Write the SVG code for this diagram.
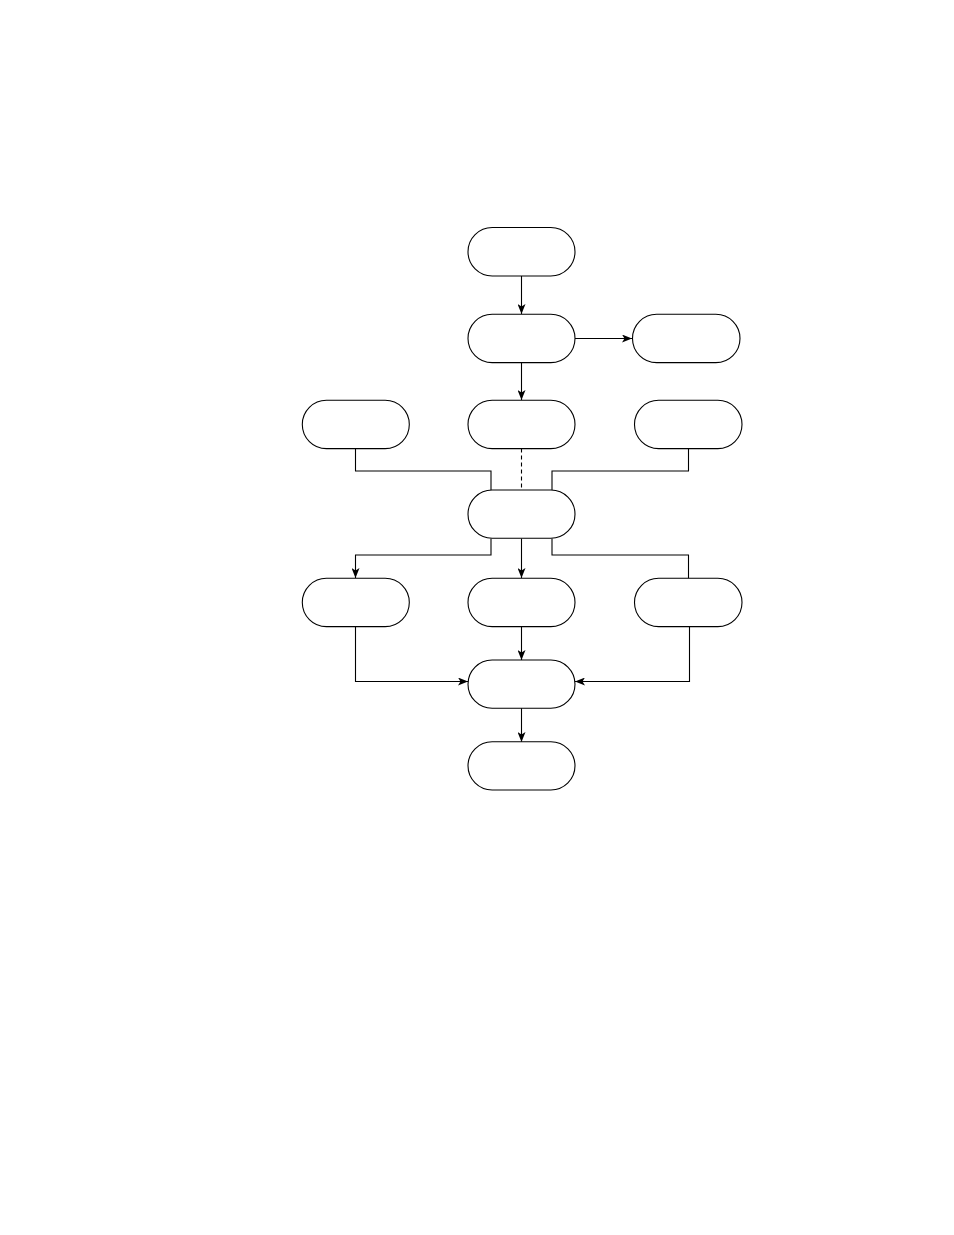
<svg xmlns="http://www.w3.org/2000/svg" width="954" height="1235" viewBox="0 0 954 1235">
<style>
.n{fill:#fff;stroke:#000;stroke-width:1.1}
.c{fill:none;stroke:#000;stroke-width:1.1}
.d{stroke-dasharray:4,3}
</style>
<defs>
<marker id="a" viewBox="0 0 10 8" refX="10" refY="4" markerWidth="10" markerHeight="8" markerUnits="userSpaceOnUse" orient="auto">
<path d="M0,0 L10,4 L0,8 L2.5,4 Z" fill="#000"/>
</marker>
</defs>
<rect width="954" height="1235" fill="#fff"/>
<g id="connectors">
<path class="c" d="M521.5,276 V314" marker-end="url(#a)"/>
<path class="c" d="M575,338.5 H632" marker-end="url(#a)"/>
<path class="c" d="M521.5,362.5 V400" marker-end="url(#a)"/>
<path class="c d" d="M521.5,448.5 V490"/>
<path class="c" d="M355.5,448.5 V471 H491 V490"/>
<path class="c" d="M688.5,448.5 V471 H552 V490"/>
<path class="c" d="M491,538.5 V555 H355.5 V578" marker-end="url(#a)"/>
<path class="c" d="M521.5,538.5 V578" marker-end="url(#a)"/>
<path class="c" d="M552,538.5 V555 H688.5 V578.5"/>
<path class="c" d="M355.5,626.5 V681.5 H468" marker-end="url(#a)"/>
<path class="c" d="M521.5,626.5 V660" marker-end="url(#a)"/>
<path class="c" d="M689.5,626.5 V681.5 H575" marker-end="url(#a)"/>
<path class="c" d="M521.5,708 V742" marker-end="url(#a)"/>
</g>
<g id="n1"><rect class="n" x="468" y="227.5" width="107" height="48.5" rx="24.25"/></g>
<g id="n2"><rect class="n" x="468" y="314.3" width="107" height="48.3" rx="24.15"/></g>
<g id="n3"><rect class="n" x="632.5" y="314.3" width="107.5" height="48.3" rx="24.15"/></g>
<g id="n4"><rect class="n" x="302.3" y="400.3" width="107" height="48.3" rx="24.15"/></g>
<g id="n5"><rect class="n" x="468" y="400.3" width="107" height="48.3" rx="24.15"/></g>
<g id="n6"><rect class="n" x="634.5" y="400.3" width="107.5" height="48.3" rx="24.15"/></g>
<g id="n7"><rect class="n" x="468" y="490" width="107" height="48.3" rx="24.15"/></g>
<g id="n8"><rect class="n" x="302.3" y="578.3" width="107" height="48.3" rx="24.15"/></g>
<g id="n9"><rect class="n" x="468" y="578.3" width="107" height="48.3" rx="24.15"/></g>
<g id="n10"><rect class="n" x="634.5" y="578.3" width="107.5" height="48.3" rx="24.15"/></g>
<g id="n11"><rect class="n" x="468" y="660" width="107" height="48.3" rx="24.15"/></g>
<g id="n12"><rect class="n" x="468" y="741.7" width="107" height="48.3" rx="24.15"/></g>
</svg>
